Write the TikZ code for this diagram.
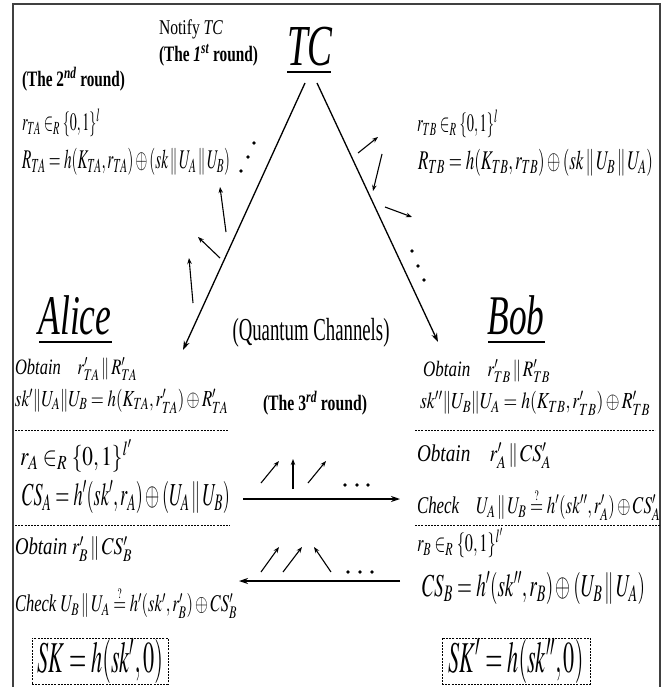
\documentclass[tikz,border=0pt]{standalone}
\usepackage{graphicx}
\usepackage{mathptmx}
\usepackage{fontspec}
\setmainfont{Liberation Serif}
\usetikzlibrary{arrows.meta}
\newcommand{\fw}[2]{\resizebox{#1pt}{\height}{#2}}
\newcommand{\fsz}[1]{\fontsize{#1}{#1}\selectfont}
\newcommand{\qeq}{\mathrel{\smash{\stackrel{\scriptscriptstyle ?}{=}}}}
\begin{document}
\begin{tikzpicture}[x=1pt,y=-1pt,
  txt/.style={inner sep=0pt, outer sep=0pt},
  lt/.style={txt, anchor=west},
  chan/.style={line width=1.3pt, -{Stealth[length=9pt,width=6pt]}},
  photon/.style={line width=1.1pt, -{Stealth[length=6pt,width=4.5pt]}},
  sepline/.style={line width=0.6pt, dash pattern=on 2pt off 1.2pt},
  skbox/.style={draw, line width=0.7pt, dash pattern=on 2pt off 1.2pt, inner sep=0pt, minimum height=46pt},
  uline/.style={line width=2pt}
]
\useasboundingbox (0,0) rectangle (670,687);
% frame
\draw[line width=1.6pt, black!75] (13,687) -- (13,4) -- (660,4) -- (660,687);

% TC
\node[txt, font=\fsz{21}, anchor=west] (notify) at (159,29) {\fw{64}{Notify \textit{TC}}};
\node[txt, font=\fsz{22}, anchor=west] (round1) at (159,55) {\fw{99}{\textbf{(The \textit{1}\textsuperscript{\textit{st}} round)}}};
\node[txt, font=\fsz{58}] (tc) at (310,47) {\fw{46}{\textit{TC}}};
\draw[uline] (287,72) -- (331,72);

% second round, left
\node[lt, font=\fsz{22}] (round2) at (22,79) {\fw{103}{\textbf{(The 2\textsuperscript{\textit{nd}} round)}}};
\node[lt, font=\fsz{25}] (rta) at (22,123) {\fw{78}{$r_{TA}\in_R\{0,1\}^{l}$}};
\node[lt, font=\fsz{27}] (Rta) at (22,162) {\fw{208}{$R_{TA}=h(K_{TA},r_{TA})\oplus(sk\,\|\,U_A\,\|\,U_B)$}};
% second round, right
\node[lt, font=\fsz{25}] (rtb) at (417,124) {\fw{81}{$r_{TB}\in_R\{0,1\}^{l}$}};
\node[lt, font=\fsz{27}] (Rtb) at (418,163) {\fw{235}{$R_{TB}=h(K_{TB},r_{TB})\oplus(sk\,\|\,U_B\,\|\,U_A)$}};

% quantum channels
\coordinate (tcL) at (305,83);
\coordinate (tcR) at (317,83);
\coordinate (aEnd) at (183,350);
\coordinate (bEnd) at (438,342);
\draw[chan] (tcL) -- (aEnd);
\draw[chan] (tcR) -- (bEnd);

% photons left
\draw[photon] (226,232) -- (220,187);
\draw[photon] (220,258) -- (198,237);
\draw[photon] (193,303) -- (189,258);
\fill (254,143) circle (1.8pt);
\fill (248,157) circle (1.8pt);
\fill (241,171) circle (1.8pt);
% photons right
\draw[photon] (358,153) -- (378,137);
\draw[photon] (382,154) -- (373,191);
\draw[photon] (385,207) -- (412,217);
\fill (412,251) circle (1.8pt);
\fill (418,266) circle (1.8pt);
\fill (424,280) circle (1.8pt);

\node[txt, font=\fsz{32}] (qc) at (311,333) {\fw{157}{(Quantum Channels)}};

% Alice and Bob
\node[txt, font=\fsz{56}] (alice) at (75,315) {\fw{73}{\textit{Alice}}};
\draw[uline] (39,342) -- (112,342);
\node[txt, font=\fsz{56}] (bob) at (516,315) {\fw{57}{\textit{Bob}}};
\draw[uline] (488,342) -- (545,342);

% Alice column
\node[lt, font=\fsz{22}] (obtTA) at (15,369) {\fw{122}{\textit{Obtain}\quad $r'_{TA}\,\|\,R'_{TA}$}};
\node[lt, font=\fsz{23}] (skA) at (15,401) {\fw{213}{$sk'\|U_A\|U_B=h(K_{TA},r'_{TA})\oplus R'_{TA}$}};
\draw[sepline] (15,430) -- (228,430);
\node[lt, font=\fsz{27}] (rA) at (20,456) {\fw{112}{$r_A\in_R\{0,1\}^{l'}$}};
\node[lt, font=\fsz{32}] (CSA) at (22,497) {\fw{208}{$CS_A=h'(sk',r_A)\oplus(U_A\,\|\,U_B)$}};
\draw[sepline] (15,525) -- (230,525);
\node[lt, font=\fsz{24}] (obtB) at (15,549) {\fw{117}{\textit{Obtain} $r'_B\,\|\,CS'_B$}};
\node[lt, font=\fsz{24}] (chkB) at (15,606) {\fw{222}{\textit{Check} $U_B\,\|\,U_A\qeq h'(sk',r'_B)\oplus CS'_B$}};
\node[skbox, minimum width=136pt] (SK) at (100,661) {\fsz{44}\fw{126}{$SK=h(sk',0)$}};

% Bob column
\node[lt, font=\fsz{22}] (obtTB) at (423,371) {\fw{127}{\textit{Obtain}\quad $r'_{TB}\,\|\,R'_{TB}$}};
\node[lt, font=\fsz{23}] (skB) at (420,403) {\fw{230}{$sk''\|U_B\|U_A=h(K_{TB},r'_{TB})\oplus R'_{TB}$}};
\draw[sepline] (415,430) -- (655,430);
\node[lt, font=\fsz{24}] (obtA) at (417,456) {\fw{134}{\textit{Obtain}\quad $r'_A\,\|\,CS'_A$}};
\node[lt, font=\fsz{24}] (chkA) at (417,508) {\fw{243}{\textit{Check}\quad $U_A\,\|\,U_B\qeq h'(sk'',r'_A)\oplus CS'_A$}};
\draw[sepline] (415,525) -- (660,525);
\node[lt, font=\fsz{25}] (rB) at (417,543) {\fw{86}{$r_B\in_R\{0,1\}^{l'}$}};
\node[lt, font=\fsz{32}] (CSB) at (422,588) {\fw{223}{$CS_B=h'(sk'',r_B)\oplus(U_B\,\|\,U_A)$}};
\node[skbox, minimum width=148pt] (SKp) at (516,661) {\fsz{44}\fw{135}{$SK'=h(sk'',0)$}};

% third round
\node[txt, font=\fsz{22}] (round3) at (315,403) {\fw{104}{\textbf{(The 3\textsuperscript{\textit{rd}} round)}}};
\coordinate (m1s) at (243,499);
\coordinate (m1e) at (400,499);
\draw[chan] (m1s) -- (m1e);
\draw[photon] (261,483) -- (279,461);
\draw[photon] (293,489) -- (293,459);
\draw[photon] (308,483) -- (326,461);
\fill (345,485) circle (1.8pt);
\fill (357,485) circle (1.8pt);
\fill (368,485) circle (1.8pt);
\coordinate (m2s) at (400,581);
\coordinate (m2e) at (239,581);
\draw[chan] (m2s) -- (m2e);
\draw[photon] (261,572) -- (279,547);
\draw[photon] (283,572) -- (302,547);
\draw[photon] (331,572) -- (314,547);
\fill (348,572) circle (1.8pt);
\fill (360,572) circle (1.8pt);
\fill (372,572) circle (1.8pt);
\end{tikzpicture}
\end{document}
